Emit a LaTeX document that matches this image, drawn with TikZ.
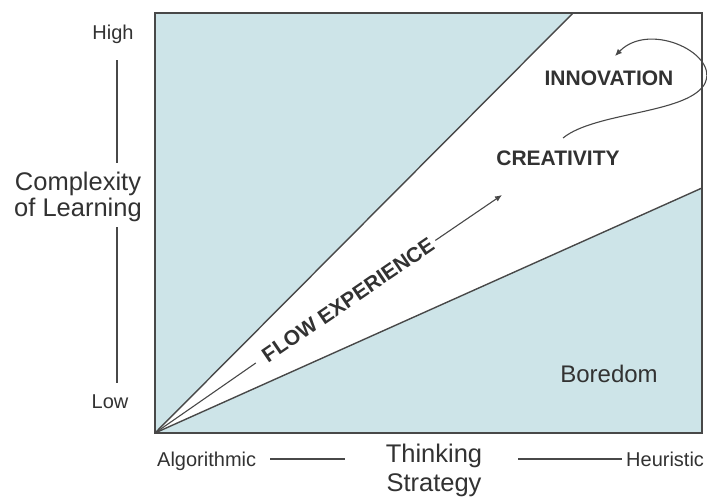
\documentclass[tikz,border=0pt]{standalone}
\usepackage{fontspec}
\setmainfont{Liberation Sans}
\usetikzlibrary{arrows.meta}

\definecolor{wedgeblue}{RGB}{205,228,232}
\definecolor{ink}{RGB}{72,72,72}
\definecolor{txt}{RGB}{50,50,50}

\begin{document}
\begin{tikzpicture}[x=1pt,y=-1pt,
  edge/.style={draw=ink,line width=1.4pt},
  thin edge/.style={draw=ink,line width=1.1pt},
  axisrule/.style={draw=ink,line width=1.1pt},
  small/.style={text=txt,font=\fontsize{20}{22}\selectfont,inner sep=0pt,anchor=base},
  axistitle/.style={text=txt,font=\fontsize{25.5}{28}\selectfont,inner sep=0pt,anchor=base},
  zone/.style={text=txt,font=\bfseries\fontsize{21}{23}\selectfont,inner sep=0pt},
  tip/.style={-{Latex[length=7pt,width=6pt]}},
]
\useasboundingbox (0,0) rectangle (707,498);

% frame corners and wedge ends
\coordinate (O)  at (155,433);
\coordinate (TL) at (155,13);
\coordinate (TR) at (702,13);
\coordinate (BR) at (702,433);
\coordinate (U)  at (573,13);
\coordinate (L)  at (702,188);

% shaded regions outside the flow channel
\fill[wedgeblue] (O) -- (TL) -- (U) -- cycle;
\fill[wedgeblue] (O) -- (L) -- (BR) -- cycle;

% channel borders and frame
\draw[edge] (O) -- (U);
\draw[edge] (O) -- (L);
\draw[edge] (TL) rectangle (BR);

% flow arrow with its label
\node[zone,rotate=34.3] (flow) at (348,300) {FLOW EXPERIENCE};
\coordinate (fltip) at (502,195);
\draw[thin edge,shorten >=10pt] (O) -- (flow.west);
\draw[thin edge,tip,shorten <=4pt] (flow.east) -- (fltip);

% creativity to innovation loop
\node[zone] (crea)  at (558,158.5) {CREATIVITY};
\node[zone] (innov) at (609,78) {INNOVATION};
\coordinate (cstart) at (563,138);
\coordinate (ctip)   at (615,56);
\draw[thin edge,tip] (cstart) .. controls (595,112) and (685,114) .. (704,85)
  .. controls (722,55) and (650,20) .. (ctip);

\node[text=txt,font=\fontsize{24}{26}\selectfont,inner sep=0pt,anchor=base] (bore) at (609,382) {Boredom};

% vertical axis
\node[small] (high) at (113,39) {High};
\node[axistitle] (cplx) at (78,190) {Complexity};
\node[axistitle] (ofl)  at (78,216) {of Learning};
\node[small] (low) at (110,408) {Low};
\coordinate (v1) at (117,60);
\coordinate (v2) at (117,163);
\coordinate (v3) at (117,227);
\coordinate (v4) at (117,383);
\draw[axisrule] (v1) -- (v2);
\draw[axisrule] (v3) -- (v4);

% horizontal axis
\node[small,anchor=base west] (algo) at (157,466) {Algorithmic};
\node[small,anchor=base west] (heur) at (626,466) {Heuristic};
\node[axistitle] (think) at (434,462) {Thinking};
\node[axistitle] (strat) at (434,491) {Strategy};
\coordinate (h1) at (270,459);
\coordinate (h2) at (345,459);
\coordinate (h3) at (518,459);
\coordinate (h4) at (622,459);
\draw[axisrule] (h1) -- (h2);
\draw[axisrule] (h3) -- (h4);
\end{tikzpicture}
\end{document}
